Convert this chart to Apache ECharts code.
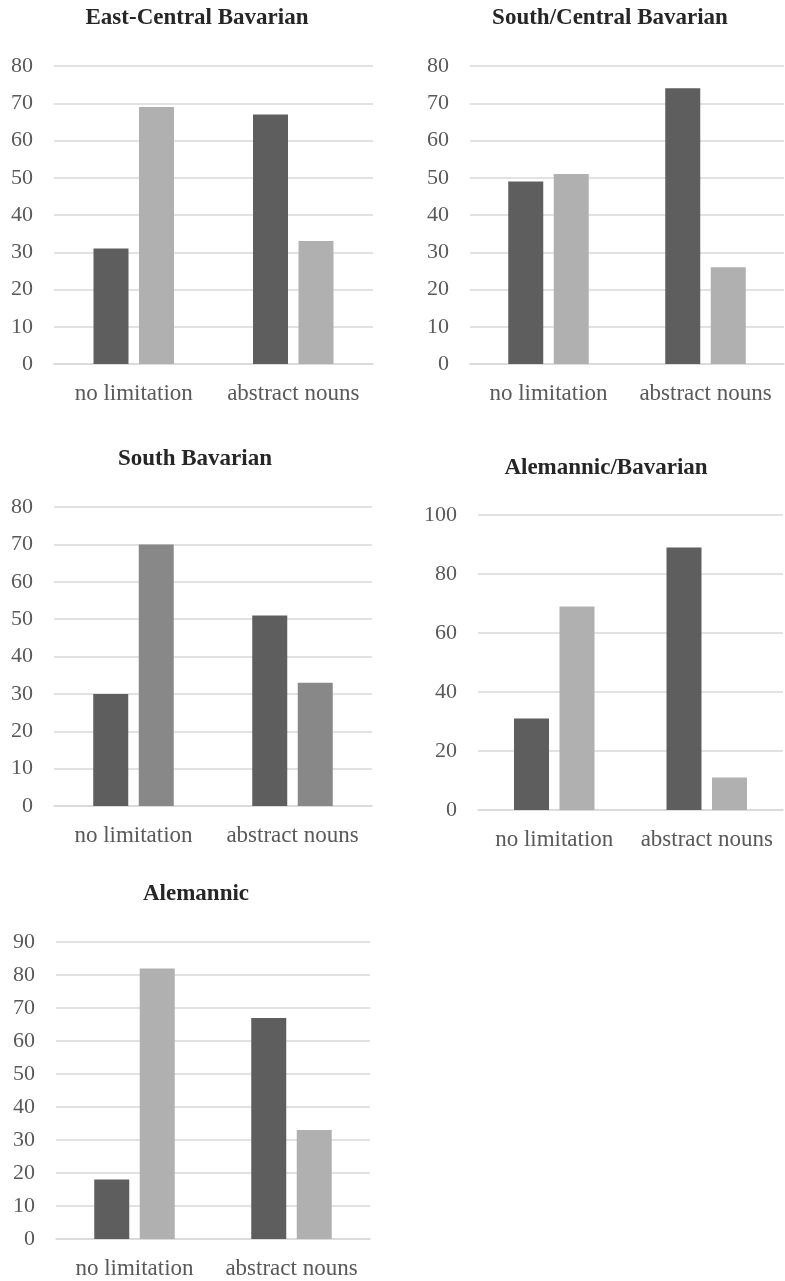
<!DOCTYPE html>
<html>
<head>
<meta charset="utf-8">
<script src="https://cdn.jsdelivr.net/npm/echarts@6/dist/echarts.min.js"></script>
<style>
html,body{margin:0;padding:0;background:#fff;}
#c{width:785px;height:1281px;}
</style>
</head>
<body>
<div id="c"></div>
<script>
// ---- data ----
const categories = ['no limitation', 'abstract nouns'];
const panelTitles = ['East-Central Bavarian', 'South/Central Bavarian', 'South Bavarian', 'Alemannic/Bavarian', 'Alemannic'];
const eastCentralDark = [31, 67];
const eastCentralLight = [69, 33];
const southCentralDark = [49, 74];
const southCentralLight = [51, 26];
const southDark = [30, 51];
const southLight = [70, 33];
const alemBavDark = [31, 89];
const alemBavLight = [69, 11];
const alemannicDark = [18, 67];
const alemannicLight = [82, 33];
const yMaxes = [80, 80, 80, 100, 90];
const yIntervals = [10, 10, 10, 20, 10];

const darkSeries = [eastCentralDark, southCentralDark, southDark, alemBavDark, alemannicDark];
const lightSeries = [eastCentralLight, southCentralLight, southLight, alemBavLight, alemannicLight];

// ---- layout ----
const grids = [
  {left: 54, top: 66, width: 319, height: 298},
  {left: 470, top: 66, width: 314, height: 298},
  {left: 54, top: 507, width: 318, height: 299},
  {left: 478, top: 515, width: 305, height: 295},
  {left: 56, top: 942, width: 314, height: 297}
];
const titlePos = [
  {x: 197, y: 17}, {x: 610, y: 17}, {x: 195, y: 458}, {x: 606, y: 467}, {x: 196, y: 893}
];
const lightColors = ['#b0b0b0', '#b0b0b0', '#888888', '#b0b0b0', '#b0b0b0'];
const darkColor = '#5e5e5e';
const FONT = 'Liberation Serif';

const option = {
  backgroundColor: '#ffffff',
  animation: false,
  title: panelTitles.map((t, i) => ({
    text: t,
    left: titlePos[i].x,
    top: titlePos[i].y - 10,
    textAlign: 'center',
    padding: 0,
    textStyle: {fontFamily: FONT, fontWeight: 'bold', fontSize: 23, color: '#262626'}
  })),
  grid: grids.map(g => Object.assign({containLabel: false}, g)),
  xAxis: grids.map((g, i) => ({
    type: 'category',
    gridIndex: i,
    data: categories,
    axisTick: {show: false},
    axisLine: {show: true, lineStyle: {color: '#d9d9d9', width: 1.5}},
    axisLabel: {fontFamily: FONT, fontSize: 23, color: '#595959', margin: 18, interval: 0, hideOverlap: false}
  })),
  yAxis: grids.map((g, i) => ({
    type: 'value',
    gridIndex: i,
    min: 0,
    max: yMaxes[i],
    interval: yIntervals[i],
    axisLine: {show: false},
    axisTick: {show: false},
    splitLine: {lineStyle: {color: '#d9d9d9', width: 1.5}},
    axisLabel: {fontFamily: FONT, fontSize: 22, color: '#595959', margin: 21}
  })),
  series: []
};

for (let i = 0; i < 5; i++) {
  option.series.push({
    type: 'bar', xAxisIndex: i, yAxisIndex: i,
    data: darkSeries[i], barWidth: 35, barGap: '30%',
    itemStyle: {color: darkColor}
  });
  option.series.push({
    type: 'bar', xAxisIndex: i, yAxisIndex: i,
    data: lightSeries[i], barWidth: 35, barGap: '30%',
    itemStyle: {color: lightColors[i]}
  });
}

const chart = echarts.init(document.getElementById('c'), null, {renderer: 'canvas'});
chart.setOption(option);
</script>
</body>
</html>
